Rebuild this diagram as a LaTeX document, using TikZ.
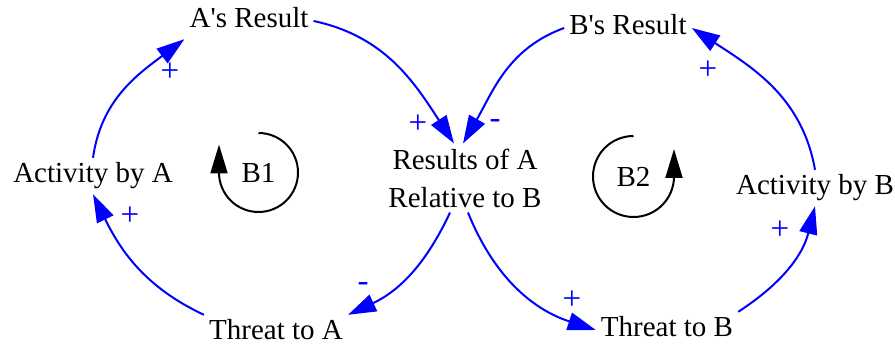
\documentclass[tikz,border=0pt]{standalone}
\usepackage{fontspec}
\setmainfont{Liberation Serif}
\usepackage{tikz}
\usetikzlibrary{arrows.meta, positioning}
\definecolor{linkblue}{RGB}{0,0,255}

\begin{document}
\begin{tikzpicture}[x=1pt, y=1pt,
    var/.style={inner sep=5pt, text height=20pt, text depth=6pt, font=\fontsize{29}{38}\selectfont},
    link/.style={draw=linkblue, line width=2pt, -{Triangle[length=28pt, width=18pt]}},
    pol/.style={text=linkblue, inner sep=0pt, font=\fontsize{33}{33}\selectfont},
    loopsym/.style={draw=black, line width=2pt, -{Triangle[length=29pt, width=17pt]}}]
        \useasboundingbox (0,0) rectangle (895,345);
        \node[var] (resA) at (249,324) {A\textquotesingle s Result};
        \node[var] (resB) at (628,317) {B\textquotesingle s Result};
        \node[var] (actA) at (93,169) {Activity by A};
        \node[var] (actB) at (815,157) {Activity by B};
        \node[inner sep=5pt, align=center, font=\fontsize{29}{38}\selectfont] (rel) at (465,167) {Results of A\\Relative to B};
        \node[var] (thrA) at (276,12) {Threat to A};
        \node[var] (thrB) at (667,15) {Threat to B};
        \node[font=\fontsize{29}{38}\selectfont, inner sep=0pt] (b1) at (258.5,172.5) {B1};
        \node[font=\fontsize{29}{38}\selectfont, inner sep=0pt] (b2) at (633.5,168.5) {B2};

        % links
        \draw[link] (actA.north) to[out=82, in=217] (resA.south west);
        \draw[link] (resA.east) to[out=-12, in=123] ([xshift=-11pt]rel.north);
        \draw[link] (resB.west) to[out=200, in=60] ([xshift=-2pt]rel.north);
        \draw[link] (actB.north) to[out=100, in=-33] (resB.east);
        \draw[link] ([xshift=-15pt]rel.south) to[out=-115, in=25] (thrA.north east);
        \draw[link] ([xshift=3pt]rel.south) to[out=-68, in=162] (thrB.west);
        \draw[link] (thrB.north east) to[out=33, in=256] (actB.south);
        \draw[link] (thrA.north west) to[out=155, in=-64] (actA.south);

        % polarities
        \node[pol] (p1) at (170,273) {+};
        \node[pol] (p2) at (418,221) {+};
        \node[pol] (p3) at (495,221) {-};
        \node[pol] (p4) at (708,275) {+};
        \node[pol] (p5) at (363,58) {-};
        \node[pol] (p6) at (572,45) {+};
        \node[pol] (p7) at (780,115) {+};
        \node[pol] (p8) at (130,129) {+};

        % loop markers
        \draw[loopsym] ([yshift=39.5pt]b1.center) arc[start angle=90, end angle=-180, radius=39.5] -- ++(0,28);
        \draw[loopsym] ([yshift=40.5pt]b2.center) arc[start angle=90, end angle=360, radius=40.5] -- ++(0,27.5);
\end{tikzpicture}
\end{document}
